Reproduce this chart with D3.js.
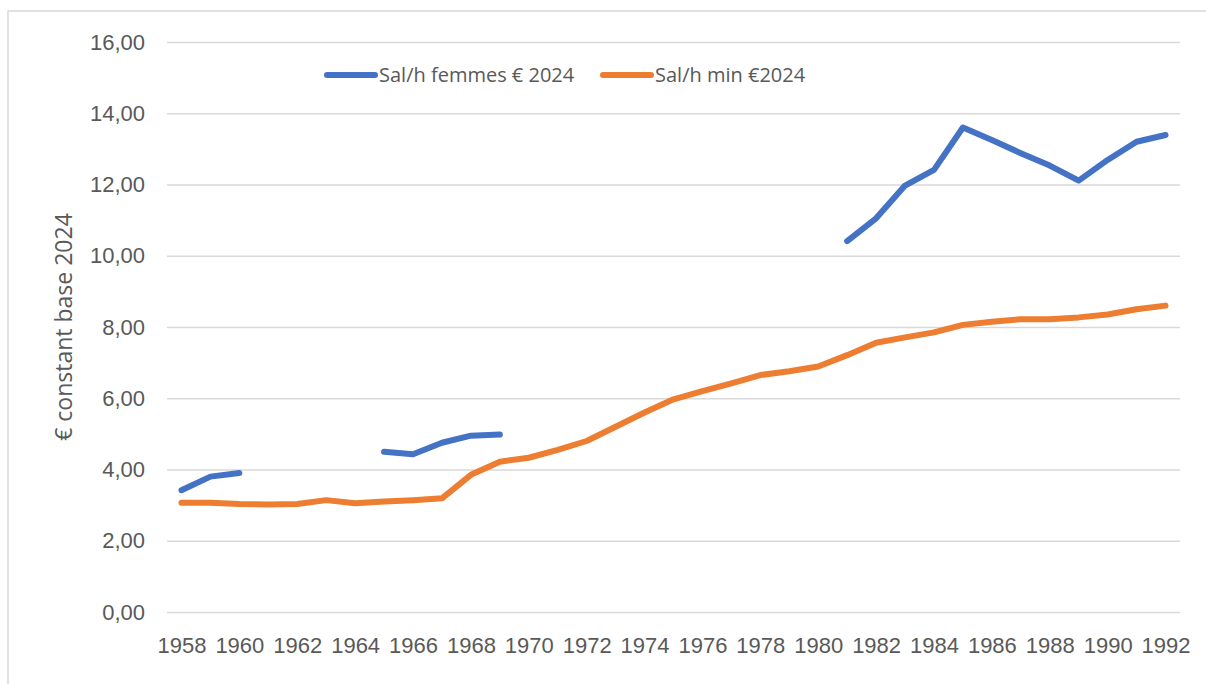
<!DOCTYPE html>
<html>
<head>
<meta charset="utf-8">
<script src="https://cdn.jsdelivr.net/npm/d3@7"></script>
<style>
  body { margin: 0; background: #fff; }
  svg { display: block; font-family: "Open Sans", "Noto Sans", sans-serif; }
</style>
</head>
<body>
<div id="chart"></div>
<script>
// data
var years = d3.range(1958, 1993);
var yearLabels = years.filter(function(y) { return y % 2 === 0; });
var yTicks = [0, 2, 4, 6, 8, 10, 12, 14, 16];

// women's hourly wage (gaps where no value)
var femmes = [3.42, 3.80, 3.90, null, null, null, null, 4.50, 4.43, 4.75, 4.95, 4.98,
  null, null, null, null, null, null, null, null, null, null, null,
  10.41, 11.05, 11.97, 12.41, 13.60, 13.25, 12.88, 12.53, 12.11, 12.69, 13.20, 13.39];
// minimum hourly wage
var minimum = [3.07, 3.07, 3.03, 3.02, 3.03, 3.14, 3.05, 3.10, 3.14, 3.19, 3.85, 4.22,
  4.33, 4.55, 4.80, 5.20, 5.60, 5.97, 6.20, 6.42, 6.65, 6.76, 6.89,
  7.21, 7.56, 7.71, 7.85, 8.06, 8.15, 8.22, 8.22, 8.27, 8.35, 8.50, 8.60];

var seriesNames = ["Sal/h femmes € 2024", "Sal/h min €2024"];
var colors = ["#4472C4", "#ED7D31"];

var svgWidth = 1206, svgHeight = 684;
var margin = { top: 42, right: 26, bottom: 72, left: 167 };
var width = svgWidth - margin.left - margin.right;
var height = svgHeight - margin.top - margin.bottom;

var svg = d3.select("#chart").append("svg")
  .attr("width", svgWidth)
  .attr("height", svgHeight);

// outer frame
svg.append("rect")
  .attr("x", 8).attr("y", 11)
  .attr("width", 1210).attr("height", 700)
  .attr("fill", "none")
  .attr("stroke", "#d9d9d9")
  .attr("stroke-width", 1.5);

var g = svg.append("g").attr("transform", "translate(" + margin.left + "," + margin.top + ")");

var x = d3.scalePoint().domain(years).range([0, width]).padding(0.5);
var y = d3.scaleLinear().domain([0, 16]).range([height, 0]);

// gridlines + y labels
var yAxis = d3.axisLeft(y).tickValues(yTicks).tickSize(-width).tickPadding(22)
  .tickFormat(function(d) { return d3.format(".2f")(d).replace(".", ","); });
g.append("g").call(yAxis)
  .call(function(a) {
    a.select(".domain").remove();
    a.selectAll("line").attr("stroke", "#d9d9d9").attr("stroke-width", 1.5);
    a.selectAll("text").attr("fill", "#595959").style("font-size", "22px");
  });

// x labels
var xAxis = d3.axisBottom(x).tickValues(yearLabels).tickSize(0).tickPadding(25);
g.append("g").attr("transform", "translate(0," + height + ")").call(xAxis)
  .call(function(a) {
    a.select(".domain").remove();
    a.selectAll("text").attr("fill", "#595959").style("font-size", "22px");
  });

// y axis title
svg.append("text")
  .attr("transform", "translate(72," + 327 + ") rotate(-90)")
  .attr("text-anchor", "middle")
  .attr("fill", "#595959")
  .style("font-size", "23px")
  .text("€ constant base 2024");

var line = d3.line()
  .defined(function(d) { return d != null; })
  .x(function(d, i) { return x(years[i]); })
  .y(function(d) { return y(d); });

[femmes, minimum].forEach(function(s, k) {
  g.append("path")
    .datum(s)
    .attr("fill", "none")
    .attr("stroke", colors[k])
    .attr("stroke-width", 6)
    .attr("stroke-linejoin", "round")
    .attr("stroke-linecap", "round")
    .attr("d", line);
});

// legend
var legendX = [327, 603];
seriesNames.forEach(function(name, k) {
  var lg = svg.append("g").attr("transform", "translate(" + legendX[k] + ",75)");
  lg.append("line")
    .attr("x1", 0).attr("x2", 48)
    .attr("stroke", colors[k])
    .attr("stroke-width", 6)
    .attr("stroke-linecap", "round");
  lg.append("text")
    .attr("x", 52).attr("y", 7)
    .attr("fill", "#595959")
    .style("font-size", "20px")
    .text(name);
});
</script>
</body>
</html>
